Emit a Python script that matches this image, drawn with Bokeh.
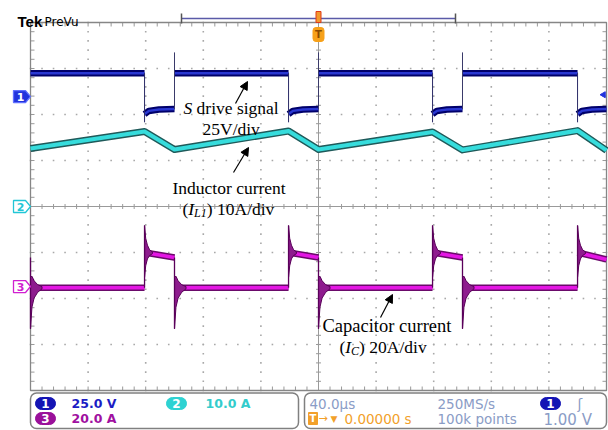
import numpy as np
from bokeh.plotting import figure
from bokeh.models import Range1d, Arrow, NormalHead
from bokeh.core.properties import value
from bokeh.embed import file_html
from bokeh.resources import INLINE

# ---------------- scope settings (status bar readouts) ----------------
time_per_div_us = 40.0
n_xdiv = 10
n_ydiv = 8
n_minor = 5
ch1_v_per_div = 25.0
ch2_a_per_div = 10.0
ch3_a_per_div = 20.0
ch1_offset_div = 2.39
ch2_offset_div = 0.0
ch3_offset_div = -1.74
trigger_level_v = 1.00

# ---------------- switching instants of S (us) ----------------
s_on_us = [-200.0, -100.0, 0.0, 100.0]
s_off_us = [-120.8, -20.8, 79.2, 179.9]

# ---------------- CH1: S drive signal (V) ----------------
s_high_v = 12.7
s_low_settle_us = [0.0, 3.0, 10.0]
s_low_settle_v = [-9.5, -7.8, -7.0]
s_low_end_v = -6.8
s_off_spike_v = -14.0
s_on_spike_v = 24.0

# ---------------- CH2: inductor current (A) ----------------
il_at_on_a = [12.6, 12.4, 12.4, 12.3]
il_at_off_a = [16.3, 16.4, 16.2, 16.5]
il_right_edge_a = 12.2

# ---------------- CH3: capacitor current (A) ----------------
ic_base_a = -0.5
ic_plateau_start_a = 14.8
ic_plateau_end_a = 12.6
ic_right_edge_a = 11.8
ic_off_ring_us = [0.0, 0.8, 2.0, 3.5, 5.5]
ic_off_ring_hi_a = [26.5, 21.0, 18.0, 16.0, 15.0]
ic_off_ring_lo_a = [4.0, 9.0, 12.0, 13.5, 14.3]
ic_on_ring_us = [0.0, 1.0, 2.5, 5.0, 8.0]
ic_on_ring_hi_a = [4.0, 4.5, 2.5, 0.8, 0.0]
ic_on_ring_lo_a = [-18.3, -9.0, -5.0, -2.5, -1.0]

# ---------------- geometry helpers (reference-picture pixels -> data) ----------------
X0, PX_X = 30.0, 57.6
Y0, PX_Y = 206.0, 46.0
t_half = time_per_div_us * n_xdiv / 2
half_y = n_ydiv / 2


def sx2t(sx):
    return (sx - X0) / PX_X * time_per_div_us - t_half


def sy2d(sy):
    return (Y0 - sy) / PX_Y


def dx(px):
    return px / PX_X * time_per_div_us


def dy(px):
    return px / PX_Y


yd0, yd1 = sy2d(430), sy2d(0)
p = figure(width=608, height=430, x_range=Range1d(sx2t(0), sx2t(608)),
           y_range=Range1d(yd0, yd1), output_backend="svg", toolbar_location=None,
           x_axis_type=None, y_axis_type=None, min_border=0,
           min_border_left=0, min_border_right=0, min_border_top=0, min_border_bottom=0,
           outline_line_color=None, background_fill_color="white", border_fill_color="white")
p.extra_y_ranges = {
    "ch1": Range1d((yd0 - ch1_offset_div) * ch1_v_per_div, (yd1 - ch1_offset_div) * ch1_v_per_div),
    "ch2": Range1d((yd0 - ch2_offset_div) * ch2_a_per_div, (yd1 - ch2_offset_div) * ch2_a_per_div),
    "ch3": Range1d((yd0 - ch3_offset_div) * ch3_a_per_div, (yd1 - ch3_offset_div) * ch3_a_per_div),
}

# ---------------- graticule ----------------
xmaj = [-t_half + i * time_per_div_us for i in range(n_xdiv + 1)]
ymaj = [-half_y + i for i in range(n_ydiv + 1)]
xmin = list(np.linspace(-t_half, t_half, n_xdiv * n_minor + 1))
ymin = list(np.linspace(-half_y, half_y, n_ydiv * n_minor + 1))
dots_x, dots_y = [], []
for xm in xmaj[1:-1]:
    if abs(xm) < 1e-9:
        continue
    dots_x += [xm] * len(ymin)
    dots_y += ymin
for ym in ymaj[1:-1]:
    if abs(ym) < 1e-9:
        continue
    dots_x += xmin
    dots_y += [ym] * len(xmin)
p.scatter(dots_x, dots_y, marker="square", size=1.6, fill_color="#a8a8a8", line_color=None)
grat_col = "#9a9a9a"
p.segment(x0=[-t_half, 0], y0=[0, -half_y], x1=[t_half, 0], y1=[0, half_y],
          line_color=grat_col, line_width=1)
# centre ticks
p.segment(x0=xmin, x1=xmin, y0=[-dy(2.5)] * len(xmin), y1=[dy(2.5)] * len(xmin),
          line_color=grat_col, line_width=1)
p.segment(x0=[-dx(2.5)] * len(ymin), x1=[dx(2.5)] * len(ymin), y0=ymin, y1=ymin,
          line_color=grat_col, line_width=1)
# edge ticks
p.segment(x0=xmin * 2, x1=xmin * 2,
          y0=[half_y] * len(xmin) + [-half_y] * len(xmin),
          y1=[half_y - dy(4)] * len(xmin) + [-half_y + dy(4)] * len(xmin),
          line_color=grat_col, line_width=1)
p.segment(x0=[-t_half] * len(ymin) + [t_half] * len(ymin),
          x1=[-t_half + dx(4)] * len(ymin) + [t_half - dx(4)] * len(ymin),
          y0=ymin * 2, y1=ymin * 2, line_color=grat_col, line_width=1)
p.quad(left=[-t_half], right=[t_half], bottom=[-half_y], top=[half_y],
       fill_color=None, line_color="#868686", line_width=1.3)

# ---------------- CH2: inductor current ----------------
il_t, il_v = [], []
for t_on, a_on, t_off, a_off in zip(s_on_us, il_at_on_a, s_off_us, il_at_off_a):
    il_t += [t_on, t_off]
    il_v += [a_on, a_off]
il_t.append(t_half)
il_v.append(il_right_edge_a)
p.line(il_t, il_v, y_range_name="ch2", line_color="#1f5a5a", line_width=7, line_join="round")
p.line(il_t, il_v, y_range_name="ch2", line_color="#36dcdc", line_width=4.2, line_join="round")

# ---------------- CH3: capacitor current ----------------
c3_xs, c3_ys = [], []
ring_xs, ring_ys = [], []
off_edge_x, on_edge_x = [], []
for k, (t_on, t_off) in enumerate(zip(s_on_us, s_off_us)):
    last = k + 1 >= len(s_on_us)
    t_next = t_half if last else s_on_us[k + 1]
    c3_xs.append([t_on, t_off])
    c3_ys.append([ic_base_a, ic_base_a])
    c3_xs.append([t_off, t_next])
    c3_ys.append([ic_plateau_start_a, ic_right_edge_a if last else ic_plateau_end_a])
    ring_xs.append([t_off + d for d in ic_off_ring_us] + [t_off + d for d in ic_off_ring_us[::-1]])
    ring_ys.append(ic_off_ring_hi_a + ic_off_ring_lo_a[::-1])
    ring_xs.append([t_on + d for d in ic_on_ring_us] + [t_on + d for d in ic_on_ring_us[::-1]])
    ring_ys.append(ic_on_ring_hi_a + ic_on_ring_lo_a[::-1])
    off_edge_x.append(t_off)
    on_edge_x.append(t_on)
p.multi_line(c3_xs, c3_ys, y_range_name="ch3", line_color="#6a0a6a", line_width=6.5)
p.multi_line(c3_xs, c3_ys, y_range_name="ch3", line_color="#e416e4", line_width=3.6)
p.patches(ring_xs, ring_ys, y_range_name="ch3", fill_color="#8e1c8e", line_color="#580058",
          line_width=1)
p.segment(x0=off_edge_x, x1=off_edge_x, y0=[ic_base_a] * len(off_edge_x),
          y1=[ic_off_ring_hi_a[0]] * len(off_edge_x), y_range_name="ch3",
          line_color="#5a005a", line_width=1.3)
p.segment(x0=on_edge_x, x1=on_edge_x, y0=[ic_plateau_end_a] * len(on_edge_x),
          y1=[ic_on_ring_lo_a[0]] * len(on_edge_x), y_range_name="ch3",
          line_color="#5a005a", line_width=1.3)

# ---------------- CH1: S drive signal ----------------
c1_xs, c1_ys = [], []
for k, (t_on, t_off) in enumerate(zip(s_on_us, s_off_us)):
    t_next = s_on_us[k + 1] if k + 1 < len(s_on_us) else t_half
    c1_xs.append([t_on, t_off])
    c1_ys.append([s_high_v, s_high_v])
    c1_xs.append([t_off + d for d in s_low_settle_us] + [t_next])
    c1_ys.append(s_low_settle_v + [s_low_end_v])
p.multi_line(c1_xs, c1_ys, y_range_name="ch1", line_color="#00006a", line_width=6.5)
p.multi_line(c1_xs, c1_ys, y_range_name="ch1", line_color="#2a38d2", line_width=2.4)
p.segment(x0=s_off_us, x1=s_off_us, y0=[s_high_v] * len(s_off_us),
          y1=[s_off_spike_v] * len(s_off_us), y_range_name="ch1",
          line_color="#2a2a66", line_width=1)
on_inner = [t for t in s_on_us if t > -t_half + 0.5]
p.segment(x0=on_inner, x1=on_inner, y0=[s_low_end_v] * len(on_inner),
          y1=[s_on_spike_v] * len(on_inner), y_range_name="ch1",
          line_color="#3a3a6a", line_width=1)

# trigger level indicator on the right edge
p.scatter([sx2t(603)], [trigger_level_v], y_range_name="ch1", marker="triangle",
          angle=np.pi / 2, size=6, fill_color="#2233dd", line_color="#2233dd")


# ---------------- text helper ----------------
def txt(sx, sy, s, size, color="black", font="DejaVu Sans", style="normal",
        align="left", baseline="middle"):
    p.text(x=[sx2t(sx)], y=[sy2d(sy)], text=[s], text_font=value(font),
           text_font_size=value(f"{size}px"), text_font_style=style,
           text_color=color, text_align=align, text_baseline=baseline)


# ---------------- annotations ----------------
serif = "Liberation Serif"
fs = 17.5
txt(183, 107, "S", fs, font=serif, style="italic")
txt(196.1, 107, "drive signal", fs, font=serif)
txt(202, 128, "25V/div", fs, font=serif)
txt(172, 187, "Inductor current", fs, font=serif)
txt(182, 208, "(", fs, font=serif)
txt(187.8, 208, "I", fs, font=serif, style="italic")
txt(193.6, 212.5, "L1", 12, font=serif, style="italic")
txt(206.3, 208, ") 10A/div", fs, font=serif)
txt(322, 325, "Capacitor current", 18.5, font=serif)
txt(339, 346, "(", fs, font=serif)
txt(344.8, 346, "I", fs, font=serif, style="italic")
txt(350.6, 350.5, "C", 12, font=serif, style="italic")
txt(358.6, 346, ") 20A/div", fs, font=serif)

for (xa, ya, xb, yb) in [(235, 103, 247, 81), (233, 172, 248, 147), (380, 317, 392, 294)]:
    p.add_layout(Arrow(x_start=sx2t(xa), y_start=sy2d(ya), x_end=sx2t(xb), y_end=sy2d(yb),
                       line_color="black", line_width=1.2,
                       end=NormalHead(size=8, fill_color="black", line_color="black")))

# ---------------- channel ground markers (left) ----------------
mk_x = [sx2t(13), sx2t(25), sx2t(30), sx2t(25), sx2t(13)]
marker_specs = [
    (ch1_offset_div, "1", "#2233dd", "#6070ff", "white"),
    (ch2_offset_div, "2", "white", "#22c6d6", "#22c6d6"),
    (ch3_offset_div, "3", "white", "#d020d0", "#d020d0"),
]
for off, lab, fill, line, tc in marker_specs:
    ys = [off + dy(6), off + dy(6), off, off - dy(6), off - dy(6)]
    p.patch(mk_x, ys, fill_color=fill, line_color=line, line_width=1.3)
    p.text(x=[sx2t(20)], y=[off], text=[lab], text_font=value("DejaVu Sans"),
           text_font_size=value("11px"), text_font_style="bold", text_color=tc,
           text_align="center", text_baseline="middle")

# ---------------- header ----------------
txt(17, 21, "Tek", 15, font="Liberation Sans", style="bold", baseline="alphabetic")
txt(44, 21, "PreVu", 12, baseline="alphabetic")
p.segment(x0=[sx2t(181)], x1=[sx2t(455)], y0=[sy2d(18)], y1=[sy2d(18)],
          line_color="#5a5aa8", line_width=1.5)
p.segment(x0=[sx2t(181), sx2t(455)], x1=[sx2t(181), sx2t(455)],
          y0=[sy2d(13), sy2d(13)], y1=[sy2d(23), sy2d(23)], line_color="#555555", line_width=1.5)
p.quad(left=[sx2t(315.5)], right=[sx2t(320.5)], top=[sy2d(11)], bottom=[sy2d(22)],
       fill_color="#f29a2e", line_color="#e03a1a", line_width=1)
p.quad(left=[sx2t(312.5)], right=[sx2t(323.5)], top=[sy2d(27)], bottom=[sy2d(41)],
       fill_color="#f7a11a", line_color="#f7a11a", border_radius=3)
txt(318, 34, "T", 10, color="#8a4a00", style="bold", align="center")

# ---------------- status bar ----------------
p.quad(left=[sx2t(30), sx2t(304)], right=[sx2t(298), sx2t(606)],
       top=[sy2d(392.5)] * 2, bottom=[sy2d(428)] * 2, fill_color="white",
       line_color="#808080", line_width=1.5, border_radius=6)
row1, row2 = 403, 418
badges = [(45, row1, "1", "#1414b4"), (176, row1, "2", "#2ed2d2"),
          (45, row2, "3", "#9a109a"), (550, row1, "1", "#1414b4")]
for bx, by, lab, col in badges:
    p.quad(left=[sx2t(bx - 10)], right=[sx2t(bx + 10)], top=[sy2d(by - 6)],
           bottom=[sy2d(by + 6)], fill_color=col, line_color=col, border_radius=6)
    txt(bx, by, lab, 12, color="white", style="bold", align="center")

txt(71, row1, "25.0 V", 12.5, color="#1c1cc4", style="bold")
txt(205, row1, "10.0 A", 12.5, color="#33cccc", style="bold")
txt(71, row2, "20.0 A", 12.5, color="#a010a0", style="bold")
slate = "#8a9cc6"
orange = "#f2a02a"
txt(309, row1, "40.0\u00b5s", 13.5, color=slate)
txt(437, row1, "250MS/s", 13.5, color=slate)
txt(437, row2, "100k points", 13.5, color=slate)
txt(577, row1, "\u0283", 14, color=slate)
txt(543, row2 + 1, "1.00 V", 15, color=slate)
p.quad(left=[sx2t(308)], right=[sx2t(317)], top=[sy2d(row2 - 6)], bottom=[sy2d(row2 + 6)],
       fill_color=orange, line_color=orange)
txt(312.5, row2, "T", 10, color="white", style="bold", align="center")
txt(318, row2, "\u2192", 11, color=orange)
txt(330, row2, "\u25bc", 9, color=orange)
txt(344, row2, "0.00000 s", 13.5, color=orange)

open("out.html", "w").write(file_html(p, INLINE))
